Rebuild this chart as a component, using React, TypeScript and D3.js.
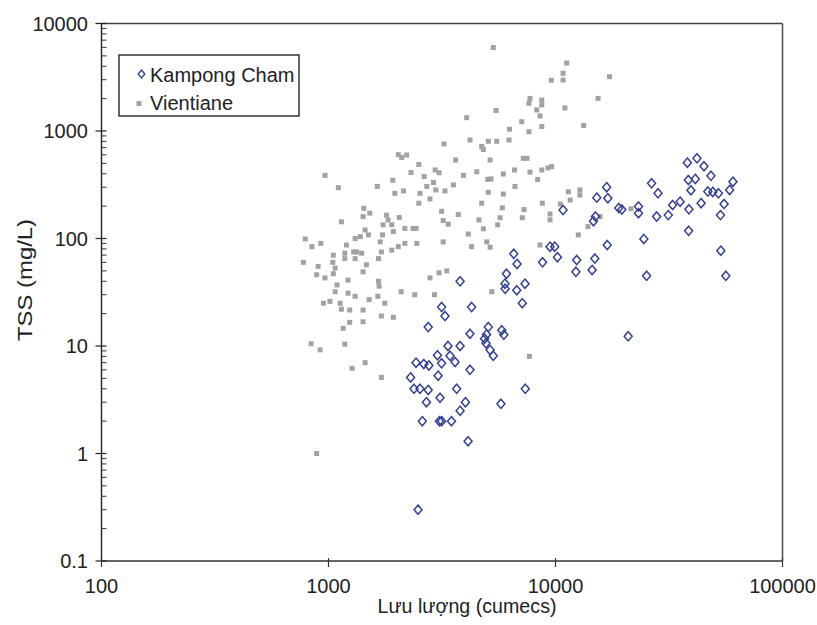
import React from "react";
import * as d3 from "d3";

// [discharge (cumecs), TSS (mg/L)]
const kampongCham: [number, number][] = [
  [2480, 0.3], [2300, 5.1], [2380, 4.0], [2530, 4.0], [2430, 7.0], [2630, 6.8], [2770, 6.6], [2750, 15], [2700, 3.0], [2590, 2.0],
  [2750, 3.9], [3040, 5.3], [3020, 8.2], [3150, 6.9], [3100, 3.3], [3080, 2.0], [3150, 2.0], [3480, 2.0], [3150, 23], [3260, 19],
  [3360, 10], [3430, 8.1], [3610, 7.1], [3800, 10], [3670, 4.0], [3800, 2.5], [4010, 3.0], [4120, 1.3], [3800, 40], [4270, 23],
  [4200, 13], [4200, 6.0], [5060, 15], [4970, 12.8], [4870, 11.7], [4940, 10.6], [5150, 9.2], [5320, 8.1], [5800, 14], [5920, 12.7],
  [5750, 2.9], [7140, 25], [7360, 4.0], [6550, 72], [6770, 58], [6080, 47], [5990, 38], [6000, 34], [6750, 33], [7340, 38],
  [8770, 60], [9460, 84], [9920, 84], [10200, 67], [10800, 184], [12400, 63], [12300, 49], [14900, 65], [14500, 51], [14700, 145],
  [15000, 160], [15200, 240], [16800, 300], [17000, 237], [16900, 87], [19000, 192], [19600, 186], [23200, 198], [23200, 172], [24500, 99],
  [25200, 45], [26500, 326], [28300, 263], [27900, 160], [31400, 165], [32800, 205], [35400, 220], [38100, 507], [42000, 557], [45100, 470],
  [48400, 383], [38500, 350], [41300, 358], [39500, 281], [38700, 187], [38600, 118], [43800, 213], [46900, 273], [49300, 271], [52200, 263],
  [55300, 209], [53300, 165], [58500, 283], [60500, 338], [53500, 77], [56300, 45], [20900, 12.3],
];

const vientiane: [number, number][] = [
  [5320, 5980], [11200, 4290], [10800, 3440], [10800, 2980], [9580, 2960], [17300, 3200], [15400, 2010], [7720, 2010], [7640, 1810], [8700, 1940],
  [8700, 1750], [11000, 1640], [8270, 1570], [8550, 1380], [5470, 1550], [4060, 1330], [7100, 1220], [8700, 1100], [13300, 1125], [6270, 1040],
  [7640, 985], [4200, 825], [5060, 802], [5510, 802], [6240, 825], [4730, 718], [4810, 673], [3230, 757], [3630, 537], [5150, 537],
  [7210, 557], [7490, 557], [2500, 488], [2210, 598], [2030, 602], [2100, 567], [2310, 411], [2950, 434], [3070, 409], [2640, 377],
  [3930, 386], [4500, 418], [5030, 355], [5200, 358], [5890, 398], [6600, 434], [7720, 414], [8700, 434], [9620, 466], [9270, 453],
  [8350, 354], [2710, 305], [2900, 332], [3550, 315], [6630, 305], [965, 386], [1105, 297], [1640, 305], [1920, 348], [1960, 263],
  [2140, 277], [2970, 283], [3260, 277], [5060, 269], [5890, 259], [11400, 272], [12800, 283], [12800, 254], [11600, 228], [8750, 213],
  [10500, 209], [2530, 263], [2800, 233], [2500, 213], [4730, 213], [5830, 193], [7270, 186], [3150, 179], [3730, 167], [7140, 156],
  [5700, 156], [3200, 147], [3370, 136], [4600, 149], [5560, 134], [4810, 123], [4130, 110], [4980, 93], [5150, 83], [4270, 84],
  [3200, 93], [2430, 124], [2450, 90], [9460, 169], [9460, 149], [12600, 108], [13900, 129], [15700, 160], [21500, 189], [8550, 87],
  [1430, 191], [1420, 160], [1520, 172], [1140, 143], [1800, 165], [1830, 149], [1900, 134], [2050, 157], [2360, 124], [2170, 124],
  [1740, 134], [1450, 120], [1380, 104], [1500, 108], [1310, 100], [1730, 108], [1930, 116], [2170, 90], [2030, 84], [1900, 78],
  [1710, 75], [1200, 87], [1180, 73], [1290, 75], [1330, 75], [1400, 73], [1310, 65], [1180, 65], [1660, 65], [1470, 57],
  [1420, 49], [1050, 70], [790, 99], [845, 84], [925, 90], [775, 60], [900, 55], [887, 46], [965, 43], [1070, 53],
  [1050, 47], [1690, 93], [1045, 60], [1220, 41], [1090, 37], [1070, 32], [1220, 31], [1310, 29], [1660, 40], [1670, 36],
  [1650, 29], [1510, 27], [1770, 25], [2090, 32], [2400, 30], [950, 25], [1015, 26], [1125, 25], [1140, 22], [1240, 21.6],
  [1420, 21.6], [1420, 16.8], [1240, 16.6], [1160, 14.6], [1710, 19], [1930, 18.5], [838, 10.5], [918, 9.2], [1180, 10.4], [1270, 6.2],
  [1450, 7.0], [1710, 5.1], [887, 1.0], [2800, 43], [3070, 48], [3320, 50], [2930, 30], [5240, 32], [7670, 8.0],
];

const xTicks = [100, 1000, 10000, 100000];
const xTickLabels = ["100", "1000", "10000", "100000"];
const yTicks = [0.1, 1, 10, 100, 1000, 10000];
const yTickLabels = ["0.1", "1", "10", "100", "1000", "10000"];
const seriesNames = ["Kampong Cham", "Vientiane"];
const xTitle = "Lưu lượng (cumecs)";
const yTitle = "TSS (mg/L)";

const W = 817;
const H = 625;
const L = 101.5;
const R = 782.5;
const T = 23.5;
const B = 561;
const FONT = "'Liberation Sans', Arial, Helvetica, sans-serif";
const BLUE = "#34408f";
const GRAY = "#a2a2a2";

const diamond = (cx: number, cy: number, hw = 4, hh = 4.6) =>
  `M${cx},${cy - hh}L${cx + hw},${cy}L${cx},${cy + hh}L${cx - hw},${cy}Z`;

export default function App() {
  const x = d3.scaleLog().domain([100, 100000]).range([L, R]);
  const y = d3.scaleLog().domain([0.1, 10000]).range([B, T]);

  const minorY: number[] = [];
  for (let e = -1; e < 4; e++) {
    for (let k = 2; k <= 9; k++) minorY.push(k * Math.pow(10, e));
  }

  return (
    <svg
      width={W}
      height={H}
      style={{ position: "absolute", left: 0, top: 0, background: "#fff" }}
      fontFamily={FONT}
    >
      <rect x={0} y={0} width={W} height={H} fill="#fff" />

      {/* Vientiane squares */}
      {vientiane.map(([q, c], i) => (
        <rect key={"v" + i} x={x(q) - 2.5} y={y(c) - 2.5} width={5} height={5} fill={GRAY} />
      ))}

      {/* Kampong Cham diamonds */}
      {kampongCham.map(([q, c], i) => (
        <path key={"k" + i} d={diamond(x(q), y(c))} fill="none" stroke={BLUE} strokeWidth={1.5} />
      ))}

      {/* frame */}
      <line x1={L} y1={T} x2={R} y2={T} stroke="#444" strokeWidth={1.6} />
      <line x1={R} y1={T} x2={R} y2={B} stroke="#555" strokeWidth={1.6} />
      <line x1={L} y1={T} x2={L} y2={B} stroke="#222" strokeWidth={1.4} />
      <line x1={L} y1={B} x2={R} y2={B} stroke="#666" strokeWidth={2} />

      {/* y ticks */}
      {minorY.map((v, i) => (
        <line key={"my" + i} x1={L} x2={L + 5} y1={y(v)} y2={y(v)} stroke="#333" strokeWidth={1} />
      ))}
      {yTicks.map((v, i) => (
        <g key={"yt" + i}>
          <line x1={L - 6} x2={L + 5} y1={y(v)} y2={y(v)} stroke="#222" strokeWidth={1.2} />
          <text x={88} y={y(v) + 7} textAnchor="end" fontSize={20} fill="#222">
            {yTickLabels[i]}
          </text>
        </g>
      ))}

      {/* x ticks */}
      {xTicks.map((v, i) => (
        <g key={"xt" + i}>
          <line x1={x(v)} x2={x(v)} y1={B - 3} y2={B + 6} stroke="#333" strokeWidth={1.2} />
          <text x={x(v)} y={593} textAnchor="middle" fontSize={20} fill="#222">
            {xTickLabels[i]}
          </text>
        </g>
      ))}

      {/* axis titles */}
      <text x={467} y={613} textAnchor="middle" fontSize={20} fill="#222" textLength={179} lengthAdjust="spacingAndGlyphs">
        {xTitle}
      </text>
      <text
        transform={`translate(32,280) rotate(-90)`}
        textAnchor="middle"
        fontSize={20}
        fill="#222"
        textLength={122}
        lengthAdjust="spacingAndGlyphs"
      >
        {yTitle}
      </text>

      {/* legend */}
      <rect x={119} y={55} width={180} height={61} fill="#fff" stroke="#333" strokeWidth={1.5} />
      <path d={diamond(141.5, 74, 3.3, 4)} fill="none" stroke={BLUE} strokeWidth={1.4} />
      <text x={150} y={82} fontSize={20} fill="#222">{seriesNames[0]}</text>
      <rect x={136.5} y={101} width={5} height={5} fill={GRAY} />
      <text x={150} y={110} fontSize={20} fill="#222">{seriesNames[1]}</text>
    </svg>
  );
}
